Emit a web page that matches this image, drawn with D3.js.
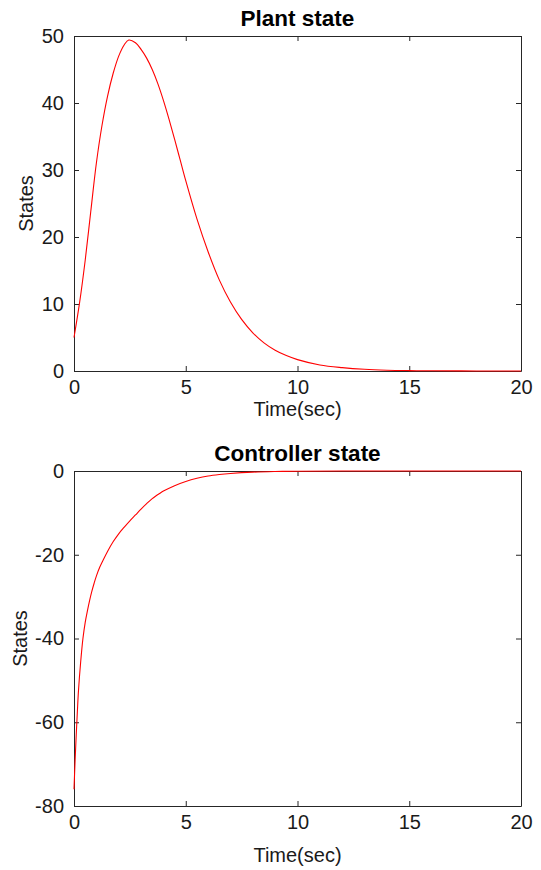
<!DOCTYPE html>
<html>
<head>
<meta charset="utf-8">
<script src="https://cdn.jsdelivr.net/npm/d3@7/dist/d3.min.js"></script>
<style>
  html, body { margin: 0; padding: 0; background: #fff; }
  svg { display: block; font-family: "Liberation Sans", Arial, Helvetica, sans-serif; }
</style>
</head>
<body>
<svg id="chart" width="541" height="870"></svg>
<script>
// ---- data ----
const plantTime  = [0, 0.25, 0.5, 0.75, 1.0, 1.25, 1.5, 1.75, 2.0, 2.25, 2.45, 2.75, 3.0, 3.25, 3.5, 3.75, 4.0, 4.25, 4.5, 4.75, 5.0, 5.5, 6.0, 6.5, 7.0, 7.5, 8.0, 8.5, 9.0, 9.5, 10, 11, 12, 13, 14, 15, 16, 18, 20];
const plantState = [5.0, 10.2, 16.5, 23.8, 31.0, 36.6, 41.0, 44.4, 47.0, 48.7, 49.4, 49.0, 48.0, 46.7, 45.0, 42.9, 40.4, 37.6, 34.6, 31.5, 28.4, 22.7, 17.8, 13.6, 10.3, 7.7, 5.7, 4.2, 3.1, 2.3, 1.7, 0.9, 0.5, 0.25, 0.12, 0.06, 0.03, 0.01, 0];

const ctrlTime  = [0, 0.05, 0.1, 0.15, 0.2, 0.3, 0.4, 0.5, 0.6, 0.7, 0.8, 0.9, 1.0, 1.15, 1.3, 1.5, 1.75, 2.0, 2.25, 2.5, 2.75, 3.0, 3.25, 3.5, 3.85, 4.0, 4.5, 5.0, 5.5, 6.0, 6.5, 7.0, 8.0, 9.0, 10, 12, 15, 20];
const ctrlState = [-76, -69, -63, -57.5, -52.5, -45.5, -40, -36.2, -33.4, -30.9, -28.7, -26.8, -25.1, -23.0, -21.3, -19.2, -16.9, -15.0, -13.4, -11.9, -10.5, -9.1, -7.8, -6.6, -5.3, -4.8, -3.5, -2.5, -1.75, -1.2, -0.85, -0.6, -0.28, -0.13, -0.06, -0.01, 0, 0];

const xTicks = [0, 5, 10, 15, 20];
const plantTicks = [0, 10, 20, 30, 40, 50];
const ctrlTicks = [-80, -60, -40, -20, 0];

const titles = ["Plant state", "Controller state"];
const xLabel = "Time(sec)";
const yLabel = "States";

// ---- drawing ----
const svg = d3.select("#chart");
const axisColor = "#262626";
const fmt = d => String(d);

function panel(cfg) {
  const x = d3.scaleLinear().domain([0, 20]).range([74, 521]);
  const y = d3.scaleLinear().domain(cfg.yDomain).range([cfg.bottom, cfg.top]);
  const g = svg.append("g");

  const styleAxis = sel => {
    sel.selectAll("path.domain").attr("stroke", axisColor).attr("stroke-width", 1);
    sel.selectAll(".tick line").attr("stroke", axisColor).attr("stroke-width", 1);
    sel.selectAll(".tick text").attr("fill", "#1a1a1a").style("font-size", "20px")
       .style("font-family", '"Liberation Sans", Arial, sans-serif');
  };

  g.append("g").attr("transform", `translate(0,${cfg.bottom})`)
    .call(d3.axisBottom(x).tickValues(xTicks).tickSizeInner(-5).tickSizeOuter(0).tickPadding(9).tickFormat(fmt))
    .call(styleAxis);
  g.append("g").attr("transform", `translate(0,${cfg.top})`)
    .call(d3.axisTop(x).tickValues(xTicks).tickSizeInner(-5).tickSizeOuter(0).tickFormat(""))
    .call(styleAxis);
  g.append("g").attr("transform", `translate(74,0)`)
    .call(d3.axisLeft(y).tickValues(cfg.yTicks).tickSizeInner(-5).tickSizeOuter(0).tickPadding(10).tickFormat(fmt))
    .call(styleAxis);
  g.append("g").attr("transform", `translate(521,0)`)
    .call(d3.axisRight(y).tickValues(cfg.yTicks).tickSizeInner(-5).tickSizeOuter(0).tickFormat(""))
    .call(styleAxis);

  g.selectAll(".tick text").filter(function(){ return this.textContent === ""; }).remove();

  const pts = cfg.t.map((t, i) => [t, cfg.v[i]]);
  g.append("path")
    .datum(pts)
    .attr("fill", "none")
    .attr("stroke", "#ff0000")
    .attr("stroke-width", 1.1)
    .attr("d", d3.line().x(d => x(d[0])).y(d => y(d[1])).curve(d3.curveCatmullRom.alpha(0.5)));

  g.append("text")
    .attr("x", (74 + 521) / 2).attr("y", cfg.titleY)
    .attr("text-anchor", "middle")
    .style("font-size", "22.5px").style("font-weight", "bold").attr("fill", "#000")
    .text(cfg.title);

  g.append("text")
    .attr("x", (74 + 521) / 2).attr("y", cfg.xLabelY)
    .attr("text-anchor", "middle")
    .style("font-size", "20px").attr("fill", "#1a1a1a")
    .text(xLabel);

  g.append("text")
    .attr("transform", `translate(${cfg.yLabelX},${(cfg.top + cfg.bottom) / 2}) rotate(-90)`)
    .attr("text-anchor", "middle")
    .style("font-size", "20px").attr("fill", "#1a1a1a")
    .text(yLabel);
}

panel({ top: 36, bottom: 371, yDomain: [0, 50], yTicks: plantTicks, t: plantTime, v: plantState,
        title: titles[0], titleY: 26, xLabelY: 416, yLabelX: 33 });
panel({ top: 471, bottom: 806, yDomain: [-80, 0], yTicks: ctrlTicks, t: ctrlTime, v: ctrlState,
        title: titles[1], titleY: 461, xLabelY: 862, yLabelX: 27 });
</script>
</body>
</html>
